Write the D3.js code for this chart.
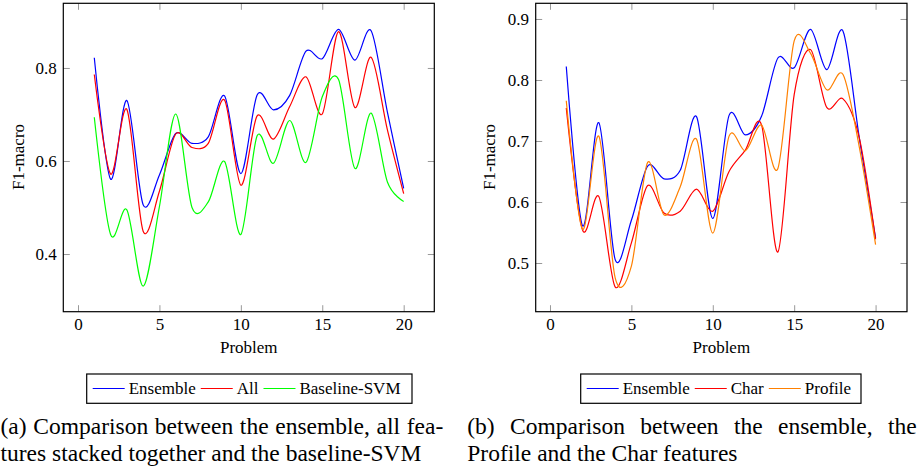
<!DOCTYPE html>
<html><head><meta charset="utf-8">
<script src="https://cdn.jsdelivr.net/npm/d3@7"></script>
<style>
body{margin:0;background:#fff}
svg{display:block}
svg text{font-family:"Liberation Serif","Times New Roman",serif !important;fill:#000}
</style>
</head><body>
<svg id="c" width="921" height="471" style="font-family:'Liberation Serif',serif"></svg>
<script>
// ---- data ----
const problems = [1,2,3,4,5,6,7,8,9,10,11,12,13,14,15,16,17,18,19,20];
const ensemble = [0.822,0.561,0.730,0.506,0.570,0.659,0.638,0.652,0.740,0.573,0.742,0.710,0.741,0.836,0.820,0.883,0.817,0.880,0.705,0.541];
const allFeat  = [0.786,0.572,0.711,0.449,0.535,0.658,0.629,0.638,0.731,0.548,0.697,0.647,0.717,0.781,0.701,0.878,0.715,0.823,0.667,0.530];
const baseline = [0.694,0.442,0.495,0.331,0.502,0.701,0.500,0.512,0.599,0.442,0.654,0.595,0.687,0.597,0.738,0.775,0.584,0.703,0.555,0.513];
const charFeat = [0.754,0.554,0.609,0.461,0.533,0.627,0.582,0.585,0.621,0.585,0.650,0.685,0.726,0.518,0.776,0.850,0.755,0.769,0.705,0.539];
const profile  = [0.766,0.555,0.708,0.476,0.495,0.665,0.579,0.625,0.703,0.549,0.708,0.684,0.726,0.655,0.864,0.844,0.784,0.809,0.690,0.530];
const xTicks = [0,5,10,15,20];
const yTicksLeft = [0.4,0.6,0.8];
const yTicksRight = [0.5,0.6,0.7,0.8,0.9];
const legendLeft = ["Ensemble","All","Baseline-SVM"];
const legendRight = ["Ensemble","Char","Profile"];
const captionLeft = [["(a)","Comparison","between","the","ensemble,","all","fea-"],["tures","stacked","together","and","the","baseline-SVM"]];
const captionRight = [["(b)","Comparison","between","the","ensemble,","the"],["Profile","and","the","Char","features"]];

const SERIF = "'Liberation Serif','Times New Roman',serif";
const svg = d3.select("#c");
const curve = d3.curveCardinal.tension(0.08);
const FS = 17;

function txt(parent){
  return parent.append("text").attr("font-family",SERIF).style("font-family",SERIF).attr("fill","#000");
}

function chart(o){
  const x = d3.scaleLinear().domain(o.xd).range([o.l,o.r]);
  const y = d3.scaleLinear().domain(o.yd).range([o.b,o.t]);
  const g = svg.append("g");
  const style = sel => {
    sel.select(".domain").remove();
    sel.selectAll(".tick line").attr("stroke","#999").attr("stroke-width",1);
    sel.attr("font-family",SERIF).attr("font-size",FS);
    sel.selectAll("text").attr("fill","#000").attr("font-family",SERIF).style("font-family",SERIF);
  };
  g.append("g").attr("transform",`translate(0,${o.b})`)
    .call(d3.axisBottom(x).tickValues(xTicks).tickSize(-6.5).tickPadding(6).tickFormat(d3.format("d"))).call(style);
  g.append("g").attr("transform",`translate(0,${o.t})`)
    .call(d3.axisTop(x).tickValues(xTicks).tickSize(-6.5).tickFormat("")).call(style);
  g.append("g").attr("transform",`translate(${o.l},0)`)
    .call(d3.axisLeft(y).tickValues(o.yt).tickSize(-6.5).tickPadding(6.6).tickFormat(d3.format(".1f"))).call(style);
  g.append("g").attr("transform",`translate(${o.r},0)`)
    .call(d3.axisRight(y).tickValues(o.yt).tickSize(-6.5).tickFormat("")).call(style);

  const line = d3.line().x(d=>x(d[0])).y(d=>y(d[1])).curve(curve);
  o.series.forEach(s=>{
    g.append("path").datum(problems.map((p,i)=>[p,s.v[i]]))
      .attr("d",line).attr("fill","none").attr("stroke",s.c).attr("stroke-width",1.2);
  });
  g.append("rect").attr("x",o.l).attr("y",o.t).attr("width",o.r-o.l).attr("height",o.b-o.t)
    .attr("fill","none").attr("stroke","#000").attr("stroke-width",1.2);

  txt(g).attr("x",(o.l+o.r)/2).attr("y",352.5).attr("text-anchor","middle").attr("font-size",FS).text("Problem");
  txt(g).attr("transform",`translate(${o.yl},157) rotate(-90)`).attr("text-anchor","middle").attr("font-size",FS).text("F1-macro");

  // legend
  const L = o.legend;
  g.append("rect").attr("x",L.x0).attr("y",374).attr("width",L.x1-L.x0).attr("height",29.3)
    .attr("fill","#fff").attr("stroke","#000").attr("stroke-width",1.2);
  let cx = L.x0 + 6;
  o.series.forEach((s,i)=>{
    g.append("line").attr("x1",cx).attr("x2",cx+32).attr("y1",388.5).attr("y2",388.5).attr("stroke",s.c).attr("stroke-width",1.2);
    const t = txt(g).attr("x",cx+36).attr("y",393.5).attr("font-size",FS).text(L.names[i]);
    cx += 36 + t.node().getComputedTextLength() + 5;
  });
}

function caption(lines, x0, x1){
  const ys = [434, 461];
  lines.forEach((words,li)=>{
    const nodes = words.map(w=>txt(svg).attr("y",ys[li]).attr("font-size",23.5).text(w));
    const widths = nodes.map(n=>n.node().getComputedTextLength());
    const total = d3.sum(widths);
    const gap = li===0 ? (x1-x0-total)/(words.length-1) : 23.5*0.25;
    let cx = x0;
    nodes.forEach((n,i)=>{ n.attr("x",cx); cx += widths[i]+gap; });
  });
}

chart({l:63.3,r:434.3,t:3.3,b:311.7,xd:[-0.903,21.88],yd:[0.276,0.939],yt:yTicksLeft,yl:24,
  series:[{v:ensemble,c:"#0000ff"},{v:allFeat,c:"#ff0000"},{v:baseline,c:"#00ff00"}],
  legend:{x0:86.7,x1:412,names:legendLeft}});
chart({l:535.7,r:907,t:3.3,b:311.7,xd:[-0.878,21.93],yd:[0.4202,0.9257],yt:yTicksRight,yl:495,
  series:[{v:ensemble,c:"#0000ff"},{v:charFeat,c:"#ff0000"},{v:profile,c:"#ff8000"}],
  legend:{x0:580.7,x1:861,names:legendRight}});

caption(captionLeft, 0.5, 443.3);
caption(captionRight, 467.3, 916.7);
</script>
</body></html>
